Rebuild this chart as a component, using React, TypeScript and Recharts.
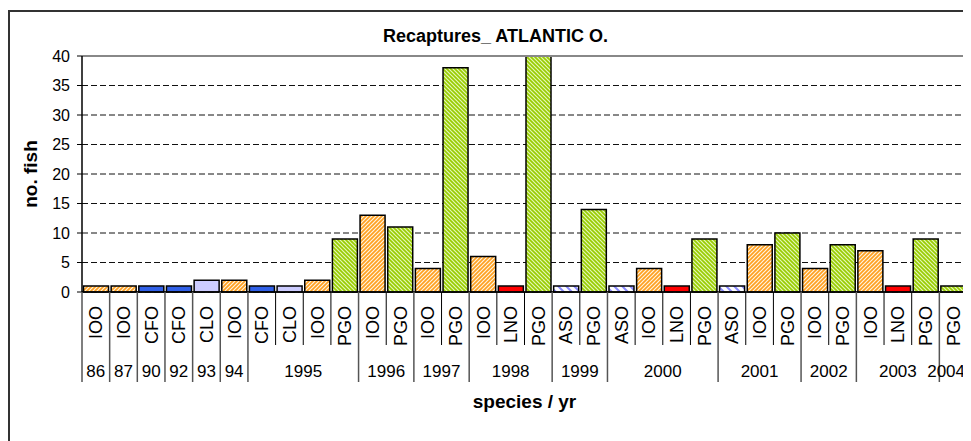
import { BarChart, Bar, XAxis, YAxis, CartesianGrid, Cell, ReferenceLine } from "recharts";

const species = [
  "IOO", "IOO", "CFO", "CFO", "CLO", "IOO", "CFO", "CLO", "IOO", "PGO",
  "IOO", "PGO", "IOO", "PGO", "IOO", "LNO", "PGO", "ASO", "PGO", "ASO",
  "IOO", "LNO", "PGO", "ASO", "IOO", "PGO", "IOO", "PGO", "IOO", "LNO",
  "PGO", "PGO",
];
const years = [
  "86", "87", "90", "92", "93", "94", "1995", "1995", "1995", "1995",
  "1996", "1996", "1997", "1997", "1998", "1998", "1998", "1999", "1999", "2000",
  "2000", "2000", "2000", "2001", "2001", "2001", "2002", "2002", "2003", "2003",
  "2003", "2004",
];
const counts = [
  1, 1, 1, 1, 2, 2, 1, 1, 2, 9,
  13, 11, 4, 38, 6, 1, 40, 1, 14, 1,
  4, 1, 9, 1, 8, 10, 4, 8, 7, 1,
  9, 1,
];
const yTicks = [0, 5, 10, 15, 20, 25, 30, 35, 40];

const fills: Record<string, string> = {
  IOO: "url(#hatchOrange)",
  PGO: "url(#hatchGreen)",
  ASO: "url(#hatchBlue)",
  CFO: "#3060e8",
  CLO: "#ccccff",
  LNO: "#ff0000",
};

const data = species.map((s, i) => ({ species: s, year: years[i], count: counts[i] }));

const font = "'Liberation Sans', Arial, sans-serif";
const chartW = 963;

const CategoryTick = (props: any) => {
  const { x, y, payload } = props;
  const i = payload.index;
  const band = (payload.offset || 13.8) * 2;
  const left = x - band / 2;
  const groupStart = i === 0 || years[i] !== years[i - 1];
  const last = i === species.length - 1;
  let yearLabel = null;
  if (groupStart) {
    let n = 1;
    while (i + n < years.length && years[i + n] === years[i]) n++;
    const half = (years[i].length * 0.556 * 17) / 2;
    const cx = Math.min(left + (n * band) / 2, chartW - 6 - half);
    yearLabel = (
      <text x={cx} y={y + 85} textAnchor="middle" fontSize={17} fill="#000" fontFamily={font}>
        {years[i]}
      </text>
    );
  }
  return (
    <g>
      <line x1={left} x2={left} y1={y} y2={y + (groupStart ? 90 : 53)} stroke={groupStart ? "#555" : "#000"} strokeWidth={groupStart ? 1.5 : 1} />
      {last && <line x1={left + band} x2={left + band} y1={y} y2={y + 53} stroke="#000" />}
      <text
        transform={`translate(${x},${y + 14}) rotate(-90)`}
        textAnchor="end"
        dy="0.36em"
        fontSize={18}
        fill="#000"
        fontFamily={font}
      >
        {species[i]}
      </text>
      {yearLabel}
    </g>
  );
};

export default function App() {
  return (
    <div style={{ position: "relative", width: chartW, height: 433, overflow: "hidden", fontFamily: font }}>
      <div
        style={{
          position: "absolute",
          left: 0,
          top: 2,
          width: 1000,
          height: 500,
          borderTop: "2px solid #333",
          borderLeft: "2px solid #333",
        }}
      />
      <div
        style={{
          position: "absolute",
          left: 0,
          width: 975,
          top: 18,
          textAlign: "center",
          fontWeight: "bold",
          fontSize: 18,
        }}
      >
        Recaptures_ ATLANTIC O.
      </div>
      <div
        style={{
          position: "absolute",
          left: 23,
          top: 166,
          width: 0,
          height: 0,
        }}
      >
        <div
          style={{
            position: "absolute",
            transform: "translate(-50%, -50%) rotate(-90deg)",
            whiteSpace: "nowrap",
            fontWeight: "bold",
            fontSize: 19,
          }}
        >
          no. fish
        </div>
      </div>
      <BarChart
        width={chartW}
        height={433}
        data={data}
        margin={{ top: 48, right: 4, left: 0, bottom: 29 }}
        barCategoryGap={1.5}
        style={{ position: "absolute", left: 0, top: 0 }}
      >
        <defs>
          <pattern id="hatchOrange" patternUnits="userSpaceOnUse" width="4" height="4">
            <rect width="4" height="4" fill="#ffa020" />
            <path d="M-1,1 l2,-2 M0,4 l4,-4 M3,5 l2,-2" stroke="#fff4e0" strokeWidth="1.2" />
          </pattern>
          <pattern id="hatchGreen" patternUnits="userSpaceOnUse" width="4" height="4">
            <rect width="4" height="4" fill="#99cc00" />
            <path d="M-1,3 l2,2 M0,0 l4,4 M3,-1 l2,2" stroke="#e4f7b8" strokeWidth="1.2" />
          </pattern>
          <pattern id="hatchBlue" patternUnits="userSpaceOnUse" width="8" height="8">
            <rect width="8" height="8" fill="#ffffff" />
            <path d="M-2,6 l4,4 M0,0 l8,8 M6,-2 l4,4" stroke="#8c8cff" strokeWidth="2" />
          </pattern>
        </defs>
        <CartesianGrid vertical={false} stroke="#111" strokeDasharray="6 3" />
        <XAxis
          dataKey="species"
          interval={0}
          tickSize={0}
          tickMargin={0}
          height={120}
          axisLine={{ stroke: "#000", strokeWidth: 1.5 }}
          tickLine={false}
          tick={<CategoryTick />}
          label={{
            value: "species / yr",
            position: "insideBottom",
            offset: 4,
            style: { fontWeight: "bold", fontSize: 19, fill: "#000", fontFamily: font },
          }}
        />
        <YAxis
          domain={[0, 40]}
          ticks={yTicks}
          width={74}
          interval={0}
          tickSize={5}
          tickMargin={7}
          axisLine={{ stroke: "#000", strokeWidth: 1.5 }}
          tickLine={{ stroke: "#000" }}
          tick={{ fontSize: 16, fill: "#000", fontFamily: font }}
        />
        <YAxis
          yAxisId="right"
          orientation="right"
          domain={[0, 40]}
          width={0}
          tick={false}
          tickLine={false}
          axisLine={{ stroke: "#888", strokeWidth: 2 }}
        />
        <ReferenceLine y={40} stroke="#888" strokeWidth={2} />
        <Bar dataKey="count" isAnimationActive={false} stroke="#000" strokeWidth={1.5}>
          {data.map((d, i) => (
            <Cell key={i} fill={fills[d.species]} />
          ))}
        </Bar>
      </BarChart>
    </div>
  );
}
